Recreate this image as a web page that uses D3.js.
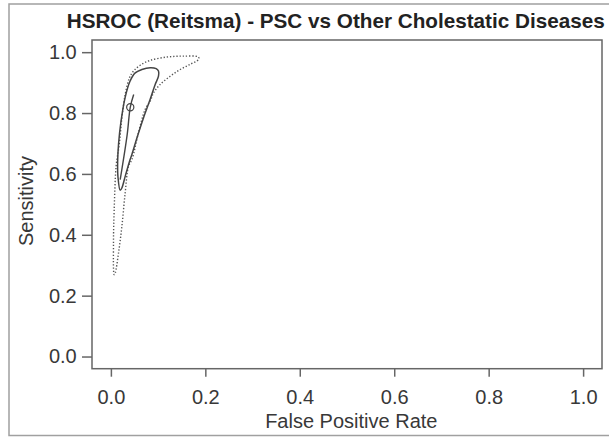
<!DOCTYPE html>
<html>
<head>
<meta charset="utf-8">
<script src="https://cdn.jsdelivr.net/npm/d3@7"></script>
<style>
  body { margin: 0; background: #fff; }
  svg { display: block; font-family: "Liberation Sans", Arial, sans-serif; }
</style>
</head>
<body>
<svg id="chart" width="609" height="437"></svg>
<script>
const titleText = "HSROC (Reitsma) - PSC vs Other Cholestatic Diseases";
const xLabel = "False Positive Rate";
const yLabel = "Sensitivity";
const xTicks = [0.0, 0.2, 0.4, 0.6, 0.8, 1.0];
const yTicks = [0.0, 0.2, 0.4, 0.6, 0.8, 1.0];

// Confidence region (solid)
const confFpr  = [0.0197, 0.0150, 0.0143, 0.0163, 0.0212, 0.0300, 0.0400, 0.0515, 0.0656, 0.0832, 0.0959, 0.1008, 0.1008, 0.0938, 0.0832, 0.0690, 0.0551, 0.0445, 0.0394, 0.0303, 0.0233];
const confSens = [0.546, 0.590, 0.640, 0.700, 0.770, 0.850, 0.903, 0.932, 0.943, 0.949, 0.946, 0.938, 0.921, 0.894, 0.845, 0.784, 0.718, 0.664, 0.641, 0.592, 0.554];

// Prediction region (dotted)
const predFpr  = [0.0070, 0.0055, 0.0070, 0.0112, 0.0176, 0.0233, 0.0303, 0.0394, 0.0479, 0.0620, 0.0832, 0.1186, 0.1537, 0.1855, 0.1855, 0.1679, 0.1467, 0.1256, 0.1044, 0.0902, 0.0832, 0.0726, 0.0584, 0.0445, 0.0373, 0.0303, 0.0233, 0.0161, 0.0091];
const predSens = [0.269, 0.373, 0.483, 0.627, 0.696, 0.784, 0.861, 0.916, 0.938, 0.957, 0.973, 0.984, 0.987, 0.984, 0.976, 0.960, 0.943, 0.921, 0.894, 0.866, 0.839, 0.812, 0.735, 0.647, 0.625, 0.538, 0.428, 0.340, 0.274];

// SROC curve (solid line)
const srocFpr  = [0.0197, 0.0345, 0.0410, 0.0483];
const srocSens = [0.581, 0.729, 0.819, 0.861];

// Summary point
const summaryFpr = [0.041];
const summarySens = [0.819];

const svg = d3.select("#chart");
const mLeft = 92, mRight = 602, mTop = 40, mBottom = 368.7;

// outer frame
svg.append("rect")
  .attr("x", 9).attr("y", 4).attr("width", 610).attr("height", 431.5)
  .attr("fill", "none").attr("stroke", "#a0a0a0").attr("stroke-width", 1.5);

const x = d3.scaleLinear().domain([-0.04, 1.04]).range([mLeft, mRight]);
const y = d3.scaleLinear().domain([-0.04, 1.04]).range([mBottom, mTop]);

const axisColor = "#666";
const textColor = "#383838";

// X axis
const gx = svg.append("g").attr("transform", `translate(0,${mBottom})`)
  .call(d3.axisBottom(x).tickValues(xTicks).tickFormat(d3.format(".1f")).tickSize(8).tickPadding(13.3));
gx.select(".domain").remove();
gx.selectAll("line").attr("stroke", axisColor).attr("stroke-width", 1.5);
gx.selectAll("text").attr("fill", textColor).style("font-size", "20px");

// Y axis
const gy = svg.append("g").attr("transform", `translate(${mLeft},0)`)
  .call(d3.axisLeft(y).tickValues(yTicks).tickFormat(d3.format(".1f")).tickSize(10).tickPadding(5.3));
gy.select(".domain").remove();
gy.selectAll("line").attr("stroke", axisColor).attr("stroke-width", 1.5);
gy.selectAll("text").attr("fill", textColor).style("font-size", "20px");

// plot box
svg.append("rect")
  .attr("x", mLeft).attr("y", mTop).attr("width", mRight - mLeft).attr("height", mBottom - mTop)
  .attr("fill", "none").attr("stroke", axisColor).attr("stroke-width", 1.5);

const closedLine = d3.line().x(d => x(d[0])).y(d => y(d[1])).curve(d3.curveCatmullRomClosed.alpha(0.5));
const openLine = d3.line().x(d => x(d[0])).y(d => y(d[1])).curve(d3.curveCatmullRom.alpha(0.5));

const predPts = predFpr.map((f, i) => [f, predSens[i]]);
const confPts = confFpr.map((f, i) => [f, confSens[i]]);
const srocPts = srocFpr.map((f, i) => [f, srocSens[i]]);

svg.append("path").attr("d", closedLine(predPts))
  .attr("fill", "none").attr("stroke", "#555").attr("stroke-width", 1.4)
  .attr("stroke-dasharray", "1.3,1.9");

svg.append("path").attr("d", closedLine(confPts))
  .attr("fill", "none").attr("stroke", "#444").attr("stroke-width", 1.5);

svg.append("path").attr("d", openLine(srocPts))
  .attr("fill", "none").attr("stroke", "#444").attr("stroke-width", 1.4);

svg.selectAll("circle.summary").data(summaryFpr).enter().append("circle")
  .attr("class", "summary")
  .attr("cx", (d) => x(d)).attr("cy", (d, i) => y(summarySens[i])).attr("r", 3.6)
  .attr("fill", "none").attr("stroke", "#444").attr("stroke-width", 1.2);

// title
svg.append("text").attr("x", 66.7).attr("y", 28.3)
  .attr("textLength", 538).attr("lengthAdjust", "spacingAndGlyphs")
  .style("font-size", "20.5px").style("font-weight", "bold").attr("fill", "#222")
  .text(titleText);

// x label
svg.append("text").attr("x", 351.3).attr("y", 428.3).attr("text-anchor", "middle")
  .style("font-size", "20px").attr("fill", textColor).text(xLabel);

// y label
svg.append("text").attr("transform", "translate(33,201) rotate(-90)").attr("text-anchor", "middle")
  .style("font-size", "20px").attr("fill", textColor).text(yLabel);
</script>
</body>
</html>
